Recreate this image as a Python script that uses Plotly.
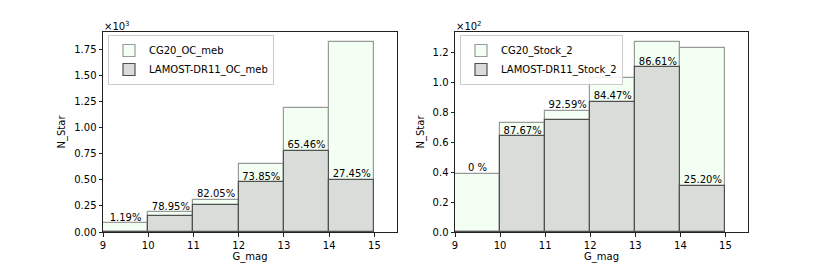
import plotly.graph_objects as go

# ---- data ----
bin_edges = [9, 10, 11, 12, 13, 14, 15]

oc_cg20 = [84, 190, 312, 650, 1190, 1829]
oc_lamost = [1, 150, 256, 480, 779, 502]
oc_labels = ["1.19%", "78.95%", "82.05%", "73.85%", "65.46%", "27.45%"]

st_cg20 = [39, 73, 81, 103, 127, 123]
st_lamost = [0, 64, 75, 87, 110, 31]
st_labels = ["0 %", "87.67%", "92.59%", "84.47%", "86.61%", "25.20%"]

oc_names = ["CG20_OC_meb", "LAMOST-DR11_OC_meb"]
st_names = ["CG20_Stock_2", "LAMOST-DR11_Stock_2"]

# ---- styling ----
FONT = "DejaVu Sans"
CG_FILL = "#f3fff3"
CG_EDGE = "#9a9a9a"
LM_FILL = "#d9dcd9"
LM_EDGE = "#505050"

centers = [(a + b) / 2 for a, b in zip(bin_edges[:-1], bin_edges[1:])]
widths = [b - a for a, b in zip(bin_edges[:-1], bin_edges[1:])]

fig = go.Figure()


def add_panel(cg, lm, labels, names, scale, xa, ya, leg):
    cgs = [v / scale for v in cg]
    lms = [v / scale for v in lm]
    top = max(cgs) * 1.05
    fig.add_trace(go.Bar(
        x=centers, y=cgs, width=widths, name=names[0],
        marker=dict(color=CG_FILL, line=dict(color=CG_EDGE, width=1.2)),
        xaxis=xa, yaxis=ya, legend=leg, hoverinfo="skip"))
    fig.add_trace(go.Bar(
        x=centers, y=lms, width=widths, name=names[1],
        marker=dict(color=LM_FILL, line=dict(color=LM_EDGE, width=1.2)),
        xaxis=xa, yaxis=ya, legend=leg, hoverinfo="skip"))
    # label position: on LAMOST bar, or above CG20 bar when the gap is tiny
    ty = []
    for c, l in zip(cgs, lms):
        if l == 0 or (c - l) < 0.05 * top:
            ty.append(c)
        else:
            ty.append(l)
    fig.add_trace(go.Scatter(
        x=centers, y=ty, text=labels, mode="text",
        textposition="top center",
        textfont=dict(family=FONT, size=10, color="black"),
        xaxis=xa, yaxis=ya, showlegend=False, hoverinfo="skip"))
    return top


top1 = add_panel(oc_cg20, oc_lamost, oc_labels, oc_names, 1000, "x", "y", "legend")
top2 = add_panel(st_cg20, st_lamost, st_labels, st_names, 100, "x2", "y2", "legend2")

# page body has an 8px margin: size the figure to fit and offset positions
OFF = 8
W, H = 831 - OFF, 265 - OFF


def px(x):
    return (x - OFF) / W


def py(y):
    return 1 - (y - OFF) / H


ydom = [py(232), py(32)]
xdom1 = [px(103), px(397)]
xdom2 = [px(455), px(748)]

axis_common = dict(
    showline=True, linecolor="#222", linewidth=1, mirror=True,
    ticks="outside", ticklen=3.5, tickcolor="#222", tickwidth=0.8,
    showgrid=False, zeroline=False, automargin=False,
    tickfont=dict(family=FONT, size=10, color="black"),
)

xt = dict(text="G_mag", font=dict(family=FONT, size=10, color="black"), standoff=2)
yt = dict(text="N_Star", font=dict(family=FONT, size=10, color="black"), standoff=6)

fig.update_layout(
    width=W, height=H,
    margin=dict(l=0, r=0, t=0, b=0, autoexpand=False),
    paper_bgcolor="white", plot_bgcolor="white",
    barmode="overlay", bargap=0,
    font=dict(family=FONT, size=10, color="black"),
    xaxis=dict(domain=xdom1, range=[9, 15.5], tickvals=bin_edges,
               anchor="y", title=xt, **axis_common),
    yaxis=dict(domain=ydom, range=[0, top1], tickvals=[0, 0.25, 0.5, 0.75, 1.0, 1.25, 1.5, 1.75],
               tickformat=".2f", anchor="x", title=yt, **axis_common),
    xaxis2=dict(domain=xdom2, range=[9, 15.5], tickvals=bin_edges,
                anchor="y2", title=xt, **axis_common),
    yaxis2=dict(domain=ydom, range=[0, top2], tickvals=[0, 0.2, 0.4, 0.6, 0.8, 1.0, 1.2],
                tickformat=".1f", anchor="x2", title=yt, **axis_common),
    legend=dict(x=px(108), y=py(35), xanchor="left", yanchor="top",
                bgcolor="rgba(255,255,255,0.85)", bordercolor="#cccccc", borderwidth=1,
                font=dict(family=FONT, size=10, color="black"), tracegroupgap=0,
                itemwidth=30),
    legend2=dict(x=px(460), y=py(35), xanchor="left", yanchor="top",
                 bgcolor="rgba(255,255,255,0.85)", bordercolor="#cccccc", borderwidth=1,
                 font=dict(family=FONT, size=10, color="black"), tracegroupgap=0,
                 itemwidth=30),
    annotations=[
        dict(text="×10<sup>3</sup>", xref="paper", yref="paper", x=px(102), y=py(34),
             xanchor="left", yanchor="bottom", showarrow=False,
             font=dict(family=FONT, size=10, color="black")),
        dict(text="×10<sup>2</sup>", xref="paper", yref="paper", x=px(454), y=py(34),
             xanchor="left", yanchor="bottom", showarrow=False,
             font=dict(family=FONT, size=10, color="black")),
    ],
)

fig.write_html("out.html")
